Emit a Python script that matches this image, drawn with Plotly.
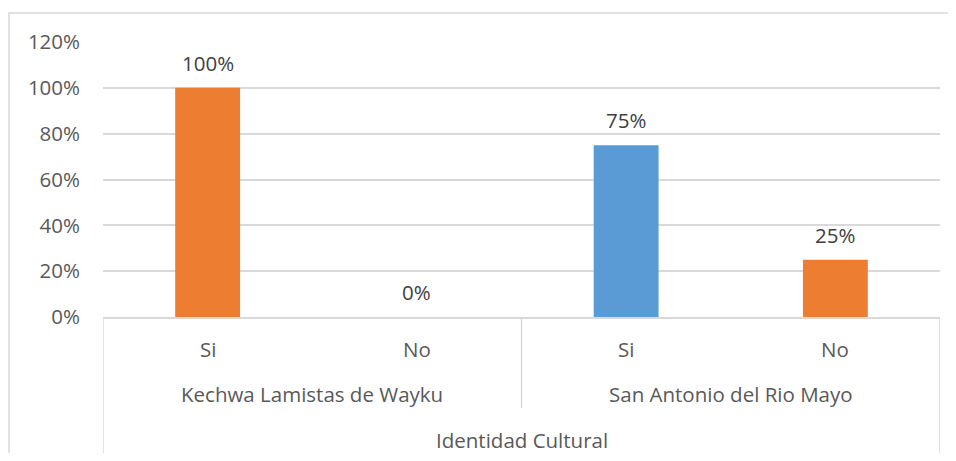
import plotly.graph_objects as go

groups = ["Kechwa Lamistas de Wayku", "San Antonio del Rio Mayo"]
answers = ["Si", "No", "Si", "No"]
values = [1.00, 0.00, 0.75, 0.25]
value_labels = ["100%", "0%", "75%", "25%"]
bar_colors = ["#ED7D31", "#ED7D31", "#5B9BD5", "#ED7D31"]
axis_title = "Identidad Cultural"
y_ticks = [0, 0.2, 0.4, 0.6, 0.8, 1.0, 1.2]
y_ticktext = ["0%", "20%", "40%", "60%", "80%", "100%", "120%"]

FONT = "Open Sans"
FS = 20.5
TXT = "#595959"
GRID = "#D9D9D9"

# page has an 8px body margin; figure is sized to fit the window
OFF = 8
W, H = 956 - 2 * OFF, 461 - 2 * OFF
L, T = 103 - OFF, 42 - OFF
R = W - (940 - OFF)
B = H - (317 - OFF)
pw, ph = W - L - R, H - T - B

xs = list(range(len(answers)))

fig = go.Figure(go.Bar(
    x=xs, y=values, width=0.31, marker=dict(color=bar_colors, line=dict(width=0)),
    hoverinfo="skip",
))

annotations = []
for x, v, lab in zip(xs, values, value_labels):
    annotations.append(dict(x=x, y=v, xref="x", yref="y", text=lab, showarrow=False,
                            yanchor="middle", yshift=25,
                            font=dict(family=FONT, size=FS, color="#404040")))
for x, a in zip(xs, answers):
    annotations.append(dict(x=x, y=0, xref="x", yref="paper", text=a, showarrow=False,
                            yanchor="middle", yshift=-32,
                            font=dict(family=FONT, size=FS, color=TXT)))
for gi, g in enumerate(groups):
    annotations.append(dict(x=gi * 2 + 0.5, y=0, xref="x", yref="paper", text=g, showarrow=False,
                            yanchor="middle", yshift=-77,
                            font=dict(family=FONT, size=FS, color=TXT)))
annotations.append(dict(x=1.5, y=0, xref="x", yref="paper", text=axis_title, showarrow=False,
                        yanchor="middle", yshift=-123,
                        font=dict(family=FONT, size=FS, color=TXT)))

shapes = []
for xd, depth in [(-0.5, 160), (1.5, 91), (3.5, 160)]:
    shapes.append(dict(type="line", xref="x", yref="paper", x0=xd, x1=xd,
                       ysizemode="pixel", yanchor=0, y0=0, y1=-depth,
                       line=dict(color=GRID, width=1.5)))
# outer chart border (left and top edges)
shapes.append(dict(type="rect", xref="paper", yref="paper",
                   x0=(9 - OFF - L) / pw, x1=1 + 40 / pw,
                   y0=-(B + 30) / ph, y1=1 + (T - (13 - OFF)) / ph,
                   line=dict(color=GRID, width=1.5), layer="below"))

fig.update_layout(
    width=W, height=H,
    margin=dict(l=L, r=R, t=T, b=B, pad=0),
    paper_bgcolor="white", plot_bgcolor="white",
    showlegend=False,
    xaxis=dict(range=[-0.5, 3.5], showticklabels=False, showgrid=False, zeroline=False,
               showline=True, linecolor=GRID, linewidth=1.5, fixedrange=True),
    yaxis=dict(range=[0, 1.2], tickvals=y_ticks, ticktext=y_ticktext,
               showgrid=True, gridcolor=GRID, gridwidth=1.5, zeroline=False,
               showline=False, ticklabelstandoff=22,
               tickfont=dict(family=FONT, size=FS, color=TXT), fixedrange=True),
    annotations=annotations,
    shapes=shapes,
)

fig.write_html("out.html")
